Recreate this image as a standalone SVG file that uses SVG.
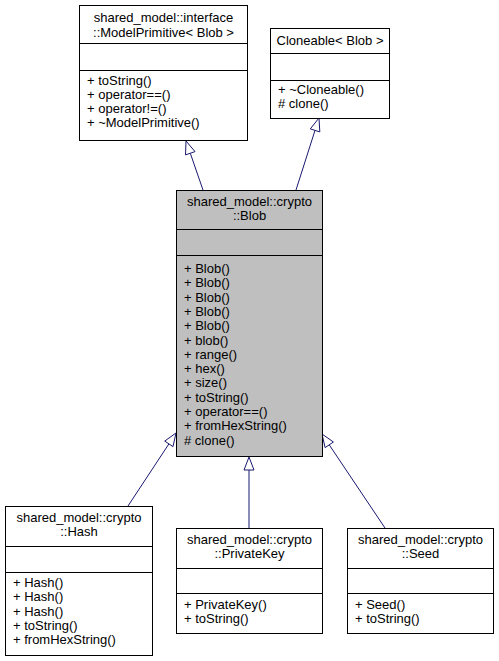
<svg xmlns="http://www.w3.org/2000/svg" width="499" height="661" viewBox="0 0 499 661">
<style>
text{font-family:"Liberation Sans",Arial,Helvetica,sans-serif;font-size:13px;fill:#000}
.c{text-anchor:middle}
.box{fill:#fff;stroke:#000;stroke-width:1}
.sel{fill:#bfbfbf;stroke:#000;stroke-width:1}
.sep{stroke:#000;stroke-width:1}
.edge{stroke:#191970;stroke-width:1;fill:none}
.head{fill:#fff;stroke:#191970;stroke-width:1}
</style>
<rect width="499" height="661" fill="#fff"/>
<g id="edges">
<line class="edge" x1="203" y1="190" x2="190.3" y2="153.3"/>
<polygon class="head" points="186,141 195,151.6 185.5,154.9"/>
<line class="edge" x1="296" y1="190" x2="315" y2="130.4"/>
<polygon class="head" points="319,118 319.8,131.9 310.3,128.9"/>
<line class="edge" x1="128" y1="506" x2="168.9" y2="443.9"/>
<polygon class="head" points="176,433 173,446.6 164.7,441.1"/>
<line class="edge" x1="249" y1="528" x2="249" y2="470"/>
<polygon class="head" points="249,457 254,470 244,470"/>
<line class="edge" x1="385" y1="528" x2="329.2" y2="444.8"/>
<polygon class="head" points="322,434 333.4,442 325.1,447.6"/>
</g>
<g id="ModelPrimitive">
<rect class="box" x="79.5" y="5.5" width="168" height="135"/>
<line class="sep" x1="79.5" y1="43.5" x2="247.5" y2="43.5"/>
<line class="sep" x1="79.5" y1="70.5" x2="247.5" y2="70.5"/>
<text class="c" x="163.5" y="22">shared_model::interface</text>
<text class="c" x="163.5" y="37">::ModelPrimitive&lt; Blob &gt;</text>
<text x="87" y="85">+ toString()</text>
<text x="87" y="99">+ operator==()</text>
<text x="87" y="113">+ operator!=()</text>
<text x="87" y="127">+ ~ModelPrimitive()</text>
</g>
<g id="Cloneable">
<rect class="box" x="270.5" y="28.5" width="119" height="90"/>
<line class="sep" x1="270.5" y1="53.5" x2="389.5" y2="53.5"/>
<line class="sep" x1="270.5" y1="80.5" x2="389.5" y2="80.5"/>
<text class="c" x="330" y="45">Cloneable&lt; Blob &gt;</text>
<text x="278" y="94">+ ~Cloneable()</text>
<text x="278" y="108"># clone()</text>
</g>
<g id="Blob">
<rect class="sel" x="176.5" y="190.5" width="146" height="266"/>
<line class="sep" x1="176.5" y1="229.5" x2="322.5" y2="229.5"/>
<line class="sep" x1="176.5" y1="255.5" x2="322.5" y2="255.5"/>
<text class="c" x="249.5" y="206">shared_model::crypto</text>
<text class="c" x="249.5" y="220">::Blob</text>
<text x="184" y="273">+ Blob()</text>
<text x="184" y="287.3">+ Blob()</text>
<text x="184" y="301.6">+ Blob()</text>
<text x="184" y="315.9">+ Blob()</text>
<text x="184" y="330.2">+ Blob()</text>
<text x="184" y="344.5">+ blob()</text>
<text x="184" y="358.8">+ range()</text>
<text x="184" y="373.1">+ hex()</text>
<text x="184" y="387.4">+ size()</text>
<text x="184" y="401.7">+ toString()</text>
<text x="184" y="416">+ operator==()</text>
<text x="184" y="430.3">+ fromHexString()</text>
<text x="184" y="444.6"># clone()</text>
</g>
<g id="Hash">
<rect class="box" x="5.5" y="506.5" width="147" height="149"/>
<line class="sep" x1="5.5" y1="546.5" x2="152.5" y2="546.5"/>
<line class="sep" x1="5.5" y1="572.5" x2="152.5" y2="572.5"/>
<text class="c" x="79" y="522">shared_model::crypto</text>
<text class="c" x="79" y="536">::Hash</text>
<text x="13" y="587">+ Hash()</text>
<text x="13" y="601.3">+ Hash()</text>
<text x="13" y="615.6">+ Hash()</text>
<text x="13" y="629.9">+ toString()</text>
<text x="13" y="644.2">+ fromHexString()</text>
</g>
<g id="PrivateKey">
<rect class="box" x="176.5" y="528.5" width="146" height="105"/>
<line class="sep" x1="176.5" y1="568.5" x2="322.5" y2="568.5"/>
<line class="sep" x1="176.5" y1="593.5" x2="322.5" y2="593.5"/>
<text class="c" x="249.5" y="544">shared_model::crypto</text>
<text class="c" x="249.5" y="558">::PrivateKey</text>
<text x="184" y="609">+ PrivateKey()</text>
<text x="184" y="623.3">+ toString()</text>
</g>
<g id="Seed">
<rect class="box" x="347.5" y="528.5" width="146" height="105"/>
<line class="sep" x1="347.5" y1="568.5" x2="493.5" y2="568.5"/>
<line class="sep" x1="347.5" y1="593.5" x2="493.5" y2="593.5"/>
<text class="c" x="420.5" y="544">shared_model::crypto</text>
<text class="c" x="420.5" y="558">::Seed</text>
<text x="355" y="609">+ Seed()</text>
<text x="355" y="623.3">+ toString()</text>
</g>
</svg>
